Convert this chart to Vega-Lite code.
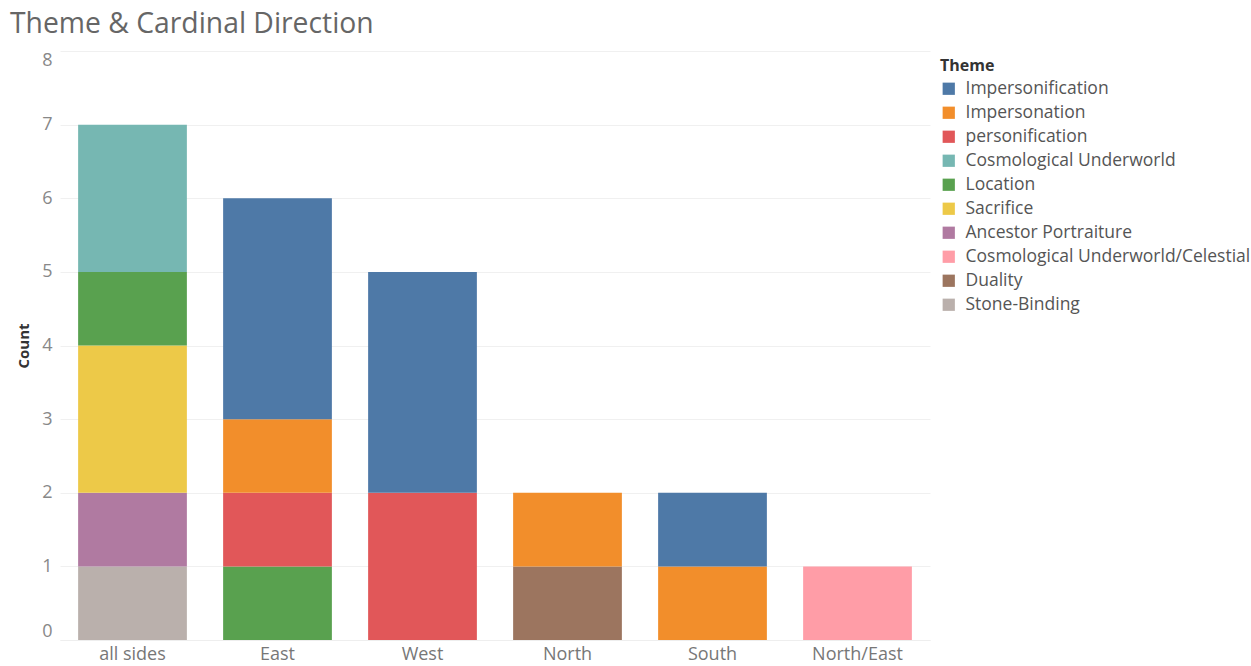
{
  "$schema": "https://vega.github.io/schema/vega-lite/v6.json",
  "width": 870,
  "height": 589,
  "autosize": {"type": "none"},
  "padding": {"left": 60, "top": 51, "right": 321, "bottom": 26},
  "background": "white",
  "title": {
    "text": "Theme & Cardinal Direction",
    "anchor": "start",
    "frame": "group",
    "dx": -50,
    "offset": -10,
    "baseline": "alphabetic",
    "font": "Open Sans",
    "fontSize": 28.3,
    "fontWeight": "normal",
    "color": "#666666"
  },
  "data": {
    "values": [
      {"Direction": "all sides", "Theme": "Stone-Binding", "Count": 1},
      {"Direction": "all sides", "Theme": "Ancestor Portraiture", "Count": 1},
      {"Direction": "all sides", "Theme": "Sacrifice", "Count": 2},
      {"Direction": "all sides", "Theme": "Location", "Count": 1},
      {"Direction": "all sides", "Theme": "Cosmological Underworld", "Count": 2},
      {"Direction": "East", "Theme": "Location", "Count": 1},
      {"Direction": "East", "Theme": "personification", "Count": 1},
      {"Direction": "East", "Theme": "Impersonation", "Count": 1},
      {"Direction": "East", "Theme": "Impersonification", "Count": 3},
      {"Direction": "West", "Theme": "personification", "Count": 2},
      {"Direction": "West", "Theme": "Impersonification", "Count": 3},
      {"Direction": "North", "Theme": "Duality", "Count": 1},
      {"Direction": "North", "Theme": "Impersonation", "Count": 1},
      {"Direction": "South", "Theme": "Impersonation", "Count": 1},
      {"Direction": "South", "Theme": "Impersonification", "Count": 1},
      {"Direction": "North/East", "Theme": "Cosmological Underworld/Celestial", "Count": 1}
    ]
  },
  "transform": [
    {"calculate": "indexof(['Impersonification','Impersonation','personification','Cosmological Underworld','Location','Sacrifice','Ancestor Portraiture','Cosmological Underworld/Celestial','Duality','Stone-Binding'], datum.Theme)", "as": "ThemeRank"}
  ],
  "mark": {"type": "bar"},
  "encoding": {
    "x": {
      "field": "Direction",
      "type": "nominal",
      "sort": ["all sides", "East", "West", "North", "South", "North/East"],
      "scale": {"paddingInner": 0.25, "paddingOuter": 0.125},
      "axis": {
        "title": null,
        "labelAngle": 0,
        "labelFont": "Open Sans",
        "labelFontSize": 18,
        "labelColor": "#777777",
        "labelPadding": 5,
        "domain": true,
        "domainColor": "#eeeeee",
        "ticks": false,
        "grid": false
      }
    },
    "y": {
      "field": "Count",
      "type": "quantitative",
      "aggregate": "sum",
      "stack": "zero",
      "scale": {"domain": [0, 8], "nice": false},
      "axis": {
        "title": "Count",
        "titleFont": "Open Sans",
        "titleFontSize": 15,
        "titleFontWeight": "bold",
        "titleColor": "#333333",
        "titlePadding": 10,
        "values": [0, 1, 2, 3, 4, 5, 6, 7, 8],
        "labelFont": "Open Sans",
        "labelFontSize": 18,
        "labelColor": "#888888",
        "labelPadding": 8,
        "labelFlush": true,
        "labelFlushOffset": 0,
        "ticks": false,
        "domain": false,
        "grid": true,
        "gridColor": "#f0f0f0",
        "gridWidth": 1
      }
    },
    "color": {
      "field": "Theme",
      "type": "nominal",
      "scale": {
        "domain": ["Impersonification", "Impersonation", "personification", "Cosmological Underworld", "Location", "Sacrifice", "Ancestor Portraiture", "Cosmological Underworld/Celestial", "Duality", "Stone-Binding"],
        "range": ["#4e79a7", "#f28e2b", "#e15759", "#76b7b2", "#59a14f", "#edc948", "#b07aa1", "#ff9da7", "#9c755f", "#bab0ac"]
      },
      "legend": {
        "orient": "none",
        "legendX": 880,
        "legendY": 7,
        "title": "Theme",
        "titleFont": "Open Sans",
        "titleFontSize": 16,
        "titleFontWeight": "bold",
        "titleColor": "#333333",
        "titlePadding": 6,
        "labelFont": "Open Sans",
        "labelFontSize": 17.5,
        "labelColor": "#555555",
        "labelLimit": 320,
        "labelOffset": 8,
        "symbolType": "square",
        "symbolSize": 150,
        "symbolStrokeWidth": 0,
        "symbolOpacity": 1,
        "rowPadding": 5
      }
    },
    "order": {"field": "ThemeRank", "type": "quantitative", "sort": "descending"},
    "tooltip": [{"field": "Direction"}, {"field": "Theme"}, {"field": "Count"}]
  },
  "config": {
    "view": {"stroke": null}
  }
}
